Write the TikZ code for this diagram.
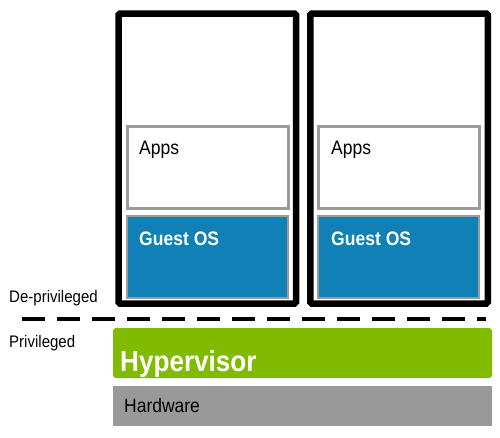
\documentclass[tikz,border=0pt]{standalone}
\usepackage{fontspec}
\setmainfont[FakeStretch=0.9]{Liberation Sans}
\definecolor{osblue}{RGB}{16,128,182}
\definecolor{hvgreen}{RGB}{128,187,0}
\definecolor{hwgray}{RGB}{153,153,153}
\definecolor{bordergray}{RGB}{155,155,155}
\tikzset{
  vmbox/.style={draw=black, line width=6.5pt, fill=white, rounded corners=1.5pt, minimum width=177.5pt, minimum height=290pt, inner sep=0pt},
  appsbox/.style={draw=bordergray, line width=3pt, fill=white, minimum width=161pt, minimum height=82pt, inner sep=0pt},
  osbox/.style={draw=bordergray, line width=2.5pt, fill=osblue, minimum width=161pt, minimum height=82pt, inner sep=0pt},
  lbl/.style={anchor=base west, inner sep=0pt},
  divider/.style={line width=3.5pt, dash pattern=on 23pt off 12pt},
}
\begin{document}
\begin{tikzpicture}[x=1pt, y=-1pt]
\useasboundingbox[fill=white] (0,0) rectangle (500,437);
% virtual machines
\node[vmbox] (vm1) at (207.25,158.5) {};
\node[vmbox] (vm2) at (399,158.5) {};
\node[appsbox] (apps1) at (207.5,167) {};
\node[osbox] (os1) at (207.5,257) {};
\node[appsbox] (apps2) at (398.5,167) {};
\node[osbox] (os2) at (398.5,257) {};
\node[lbl, font=\fontsize{19.5}{22}\selectfont] (appst1) at (139,154) {Apps};
\node[lbl, font=\fontsize{19.5}{22}\selectfont] (appst2) at (331,154) {Apps};
\node[lbl, text=white, font=\bfseries\fontsize{19.5}{22}\selectfont] (ost1) at (139,245) {Guest OS};
\node[lbl, text=white, font=\bfseries\fontsize{19.5}{22}\selectfont] (ost2) at (331,245) {Guest OS};
% privilege levels
\node[lbl, font=\fontsize{16.7}{20}\selectfont] (depriv) at (9,302) {De-privileged};
\node[lbl, font=\fontsize{16.7}{20}\selectfont] (priv) at (9,347) {Privileged};
\coordinate (dl) at (22,319);
\coordinate (dr) at (486,319);
\draw[divider] (dl) -- (dr);
% hypervisor and hardware
\node[fill=hvgreen, rounded corners=3pt, minimum width=379pt, minimum height=50pt, inner sep=0pt] (hv) at (302.5,353) {};
\node[lbl, text=white, font=\bfseries\fontsize{29}{33}\selectfont] (hvt) at (120,371) {Hypervisor};
\node[fill=hwgray, minimum width=379pt, minimum height=40pt, inner sep=0pt] (hw) at (302.5,406) {};
\node[lbl, font=\fontsize{19.4}{22}\selectfont] (hwt) at (124,412) {Hardware};
\end{tikzpicture}
\end{document}
